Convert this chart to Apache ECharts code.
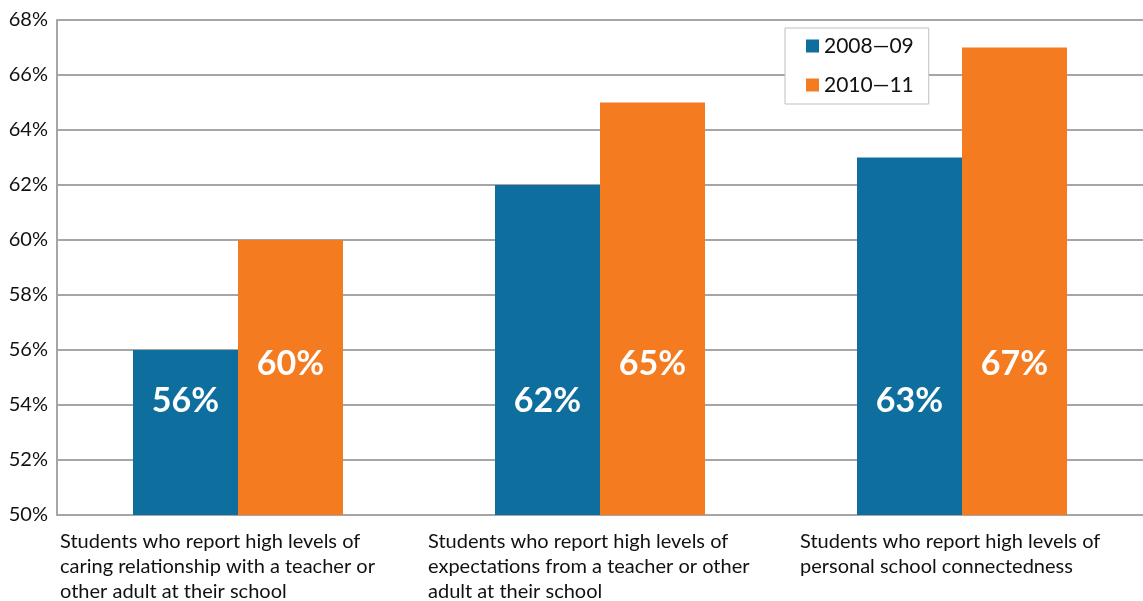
<!DOCTYPE html>
<html>
<head>
<meta charset="utf-8">
<script src="https://cdn.jsdelivr.net/npm/echarts@6/dist/echarts.min.js"></script>
<style>
  html, body { margin: 0; padding: 0; background: #fff; }
  #chart { width: 1143px; height: 601px; }
</style>
</head>
<body>
<div id="chart"></div>
<script>
// Survey categories (multi-line axis labels)
const categories = [
  'Students who report high levels of\ncaring relationship with a teacher or\nother adult at their school',
  'Students who report high levels of\nexpectations from a teacher or other\nadult at their school',
  'Students who report high levels of\npersonal school connectedness'
];
const seriesNames = ['2008\u201409', '2010\u201411'];
const values2008 = [56, 62, 63];
const values2010 = [60, 65, 67];
// Left shift of each category label relative to its band centre
const labelShift = [-178, -172, -162];

const chart = echarts.init(document.getElementById('chart'));
const font = 'Lato, "Open Sans", sans-serif';

function valueLabel(distance) {
  return {
    show: true,
    position: 'insideBottom',
    distance: distance,
    color: '#ffffff',
    fontFamily: font,
    fontWeight: 'bold',
    fontSize: 34,
    formatter: p => p.value + '%'
  };
}

chart.setOption({
  animation: false,
  backgroundColor: '#ffffff',
  grid: { left: 57, right: 0, top: 20, bottom: 86, containLabel: false, outerBoundsMode: 'none' },
  legend: {
    orient: 'vertical',
    left: 785,
    top: 28,
    padding: [7, 15, 8, 21],
    backgroundColor: '#ffffff',
    borderColor: '#bfbfbf',
    borderWidth: 1,
    itemWidth: 13,
    itemHeight: 13,
    itemGap: 17,
    icon: 'rect',
    textStyle: { fontFamily: font, fontSize: 21, color: '#111', lineHeight: 22 },
    data: seriesNames
  },
  xAxis: {
    type: 'category',
    data: categories.map((c, i) => ({
      value: c,
      textStyle: { align: 'left', padding: [0, 0, 0, labelShift[i]] }
    })),
    axisLine: { show: true, lineStyle: { color: '#a6a6a6', width: 2 } },
    axisTick: { show: false },
    axisLabel: {
      interval: 0,
      align: 'left',
      margin: 14,
      fontFamily: font,
      fontSize: 20,
      lineHeight: 25,
      color: '#111'
    }
  },
  yAxis: {
    type: 'value',
    min: 50,
    max: 68,
    interval: 2,
    axisLine: { show: true, lineStyle: { color: '#a6a6a6', width: 2 } },
    axisTick: { show: false },
    splitLine: { lineStyle: { color: '#a6a6a6', width: 2 } },
    axisLabel: {
      formatter: '{value}%',
      margin: 9,
      fontFamily: font,
      fontSize: 20,
      color: '#111'
    }
  },
  series: [
    {
      name: seriesNames[0],
      type: 'bar',
      data: values2008,
      barWidth: 105,
      barGap: '0%',
      itemStyle: { color: '#0e6e9e' },
      label: valueLabel(97)
    },
    {
      name: seriesNames[1],
      type: 'bar',
      data: values2010,
      barWidth: 105,
      barGap: '0%',
      itemStyle: { color: '#f47b20' },
      label: valueLabel(134)
    }
  ]
});
</script>
</body>
</html>
